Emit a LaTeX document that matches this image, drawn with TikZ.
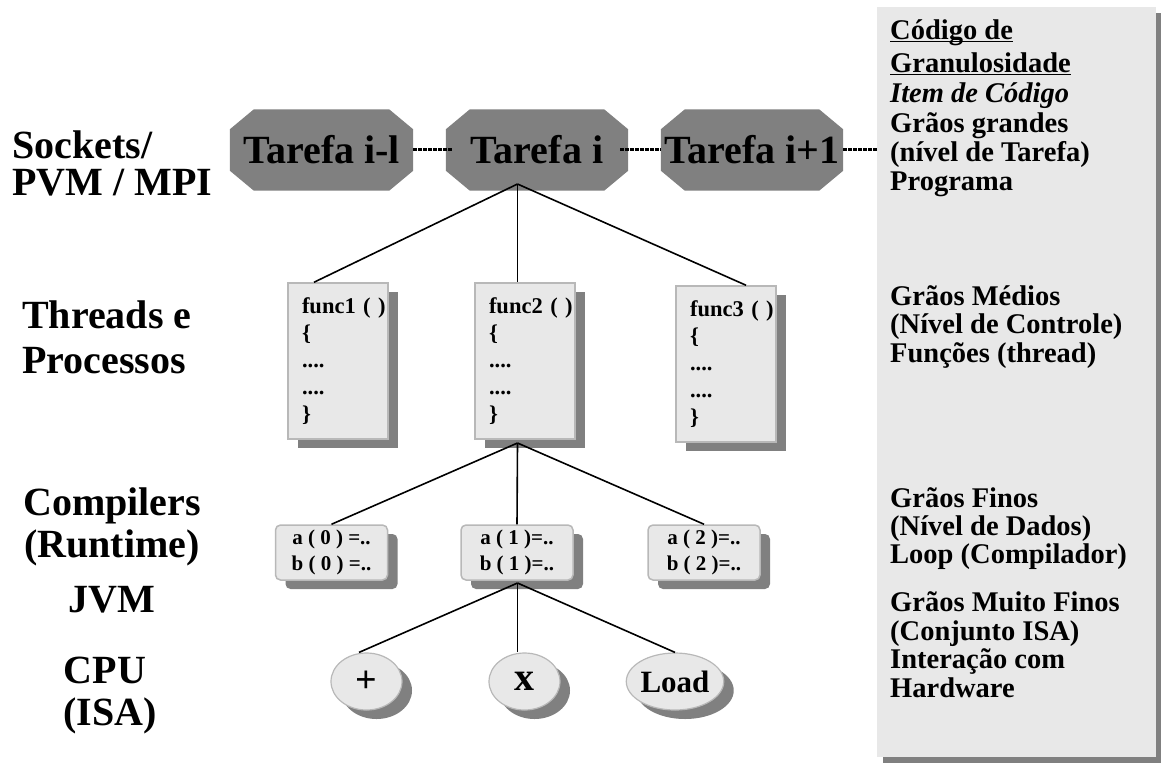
\documentclass[tikz,border=0pt]{standalone}
\usepackage{fontspec}
\setmainfont{Liberation Serif}
\usetikzlibrary{shadows,shapes.geometric}
\pgfdeclarelayer{background}
\pgfsetlayers{background,main}
\definecolor{boxfill}{HTML}{E8E8E8}
\definecolor{boxline}{HTML}{B8B8B8}
\definecolor{darkgr}{HTML}{808080}
\newcommand\myul[1]{\setbox0\hbox{#1}\rlap{\rule[-3.3pt]{\wd0}{1.6pt}}\box0}
\newcommand\octfill[1]{%
  \begin{pgfonlayer}{background}
  \fill[darkgr] ([xshift=24pt]#1.north west) -- ([xshift=-24pt]#1.north east)
    -- ([yshift=-20pt]#1.north east) -- ([yshift=20pt]#1.south east)
    -- ([xshift=-24pt]#1.south east) -- ([xshift=24pt]#1.south west)
    -- ([yshift=20pt]#1.south west) -- ([yshift=-20pt]#1.north west) -- cycle;
  \end{pgfonlayer}}
\begin{document}
\begin{tikzpicture}[x=1pt,y=-1pt,
  lbl/.style={font=\fontsize{40}{40}\selectfont\bfseries, inner sep=0pt},
  rt/.style={anchor=base west, font=\fontsize{28.5}{29}\selectfont\bfseries, inner sep=0pt},
  tarefa/.style={minimum width=182pt, minimum height=81pt, inner sep=0pt, font=\fontsize{40}{40}\selectfont\bfseries},
  funcbox/.style={draw=boxline, line width=1.5pt, fill=boxfill, minimum height=156pt, text width=72pt,
    inner xsep=14pt, inner ysep=0pt, align=left, font=\fontsize{22.5}{27}\selectfont\bfseries,
    drop shadow={shadow xshift=10pt, shadow yshift=-9pt, fill=darkgr, opacity=1}},
  abox/.style={draw=boxline, line width=1.5pt, fill=boxfill, rounded corners=5pt, minimum width=112pt,
    minimum height=55pt, inner sep=0pt, align=center, font=\fontsize{21}{26}\selectfont\bfseries,
    drop shadow={shadow xshift=10pt, shadow yshift=-9pt, fill=darkgr, opacity=1}},
  ell/.style={ellipse, draw=boxline, line width=1.2pt, fill=boxfill, minimum width=71pt, minimum height=57pt,
    inner sep=0pt, font=\fontsize{38}{38}\selectfont\bfseries,
    drop shadow={shadow xshift=10pt, shadow yshift=-9pt, fill=darkgr, opacity=1}},
  dotline/.style={line width=3pt, dash pattern=on 4pt off 1pt},
  treeline/.style={line width=1.6pt}
]
\useasboundingbox (0,0) rectangle (1161,772);

% right panel
\node[fill=boxfill, minimum width=279pt, minimum height=750pt, inner sep=0pt,
  drop shadow={shadow xshift=6pt, shadow yshift=-6pt, fill=darkgr, opacity=1}] (panel) at (1016.5,382) {};

\node[rt] (r1) at (890,39) {\myul{Código de}};
\node[rt] (r2) at (890,72) {\myul{Granulosidade}};
\node[rt] (r3) at (890,102) {\textit{Item de Código}};
\node[rt] (r4) at (890,132) {Grãos grandes};
\node[rt] (r5) at (890,161) {(nível de Tarefa)};
\node[rt] (r6) at (890,190) {Programa};
\node[rt] (r7) at (890,305) {Grãos Médios};
\node[rt] (r8) at (890,333) {(Nível de Controle)};
\node[rt] (r9) at (890,362) {Funções (thread)};
\node[rt] (r10) at (890,507) {Grãos Finos};
\node[rt] (r11) at (890,535) {(Nível de Dados)};
\node[rt] (r12) at (890,563) {Loop (Compilador)};
\node[rt] (r13) at (890,611) {Grãos Muito Finos};
\node[rt] (r14) at (890,640) {(Conjunto ISA)};
\node[rt] (r15) at (890,668) {Interação com};
\node[rt] (r16) at (890,697) {Hardware};

% left labels
\node[lbl, anchor=base west] (l1) at (12,158) {Sockets/};
\node[lbl, anchor=base west] (l2) at (12,195) {PVM / MPI};
\node[lbl, anchor=base west] (l3) at (22,328) {Threads e};
\node[lbl, anchor=base west] (l4) at (22,373) {Processos};
\node[lbl, anchor=base] (l5) at (112,515) {Compilers};
\node[lbl, anchor=base] (l6) at (112,557) {(Runtime)};
\node[lbl, anchor=base] (l7) at (112,612) {JVM};
\node[lbl, anchor=base] (l8) at (105,683) {CPU};
\node[lbl, anchor=base] (l9) at (110,725) {(ISA)};

% tasks
\node[tarefa, minimum width=183pt] (t1) at (321.5,150) {Tarefa i-l};
\node[tarefa] (t2) at (537,150) {Tarefa i};
\node[tarefa] (t3) at (752,150) {Tarefa i+1};
\octfill{t1}\octfill{t2}\octfill{t3}

\draw[dotline] ([yshift=1pt]t1.east) -- ([yshift=1pt,xshift=6pt]t2.west);
\draw[dotline] ([yshift=1pt,xshift=-8pt]t2.east) -- ([yshift=1pt]t3.west);
\draw[dotline] ([yshift=1pt]t3.east) -- ([yshift=1pt]t3.east -| panel.west);

% functions
\node[funcbox] (f1) at (338,361) {\mbox{func1 ( )}\\ \{\\ ....\\ ....\\ \}};
\node[funcbox] (f2) at (525,361) {\mbox{func2 ( )}\\ \{\\ ....\\ ....\\ \}};
\node[funcbox] (f3) at (726,364) {\mbox{func3 ( )}\\ \{\\ ....\\ ....\\ \}};

% loops
\node[abox] (a0) at (331.5,552.5) {a ( 0 ) =..\\ b ( 0 ) =..};
\node[abox] (a1) at (517,552.5) {a ( 1 )=..\\ b ( 1 )=..};
\node[abox] (a2) at (704,552.5) {a ( 2 )=..\\ b ( 2 )=..};

% instructions
\node[ell] (e1) at (366.5,681.5) {+};
\node[ell, font=\fontsize{40}{40}\selectfont\bfseries] (e2) at (524.5,681.5) {x};
\node[ell, minimum width=84pt, font=\fontsize{31}{31}\selectfont\bfseries] (e3) at (675,681.5) {Load};

% tree connectors
\coordinate (ap1) at (517.5,184);
\coordinate (ap2) at (517.5,443);
\coordinate (ap3) at (517.5,583);
\draw[treeline] (ap1) -- ([xshift=-24pt]f1.north);
\draw[treeline] (ap1) -- ([xshift=-7.5pt]f2.north);
\draw[treeline] (ap1) -- ([xshift=20pt]f3.north);
\draw[treeline] (ap2) -- (a0.north);
\draw[treeline] (ap2) -- (a1.north);
\draw[treeline] (ap2) -- (a2.north);
\draw[treeline] (ap3) -- ([xshift=-7.5pt]e1.north);
\draw[treeline] (ap3) -- ([xshift=-7pt]e2.north);
\draw[treeline] (ap3) -- (e3.north);
\end{tikzpicture}
\end{document}
